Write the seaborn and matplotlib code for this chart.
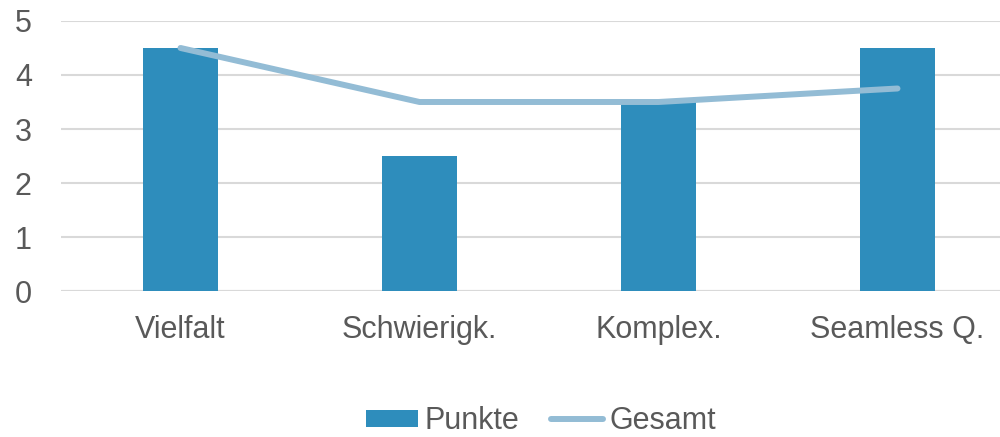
import matplotlib
matplotlib.use("Agg")
import matplotlib.pyplot as plt
import seaborn as sns
import pandas as pd
from matplotlib.patches import Patch
from matplotlib.lines import Line2D

categories = ["Vielfalt", "Schwierigk.", "Komplex.", "Seamless Q."]
punkte = [4.5, 2.5, 3.5, 4.5]
gesamt = [4.5, 3.5, 3.5, 3.75]

bar_color = "#2E8DBC"
line_color = "#93BCD5"
text_color = "#595959"
grid_color = "#D9D9D9"

sns.set_theme(style="white")
plt.rcParams['font.family'] = ['Liberation Sans', 'DejaVu Sans']

df = pd.DataFrame({"Kategorie": categories, "Punkte": punkte, "Gesamt": gesamt})

fig = plt.figure(figsize=(10, 4.37), dpi=100)
ax = fig.add_axes([0.061, 0.334, 0.956, 0.618])

sns.barplot(data=df, x="Kategorie", y="Punkte", color=bar_color, width=0.314,
            saturation=1, ax=ax, zorder=2, edgecolor="none", linewidth=0)
sns.pointplot(data=df, x="Kategorie", y="Gesamt", color=line_color, markers="",
              linestyles="-", ax=ax)
for ln in ax.lines:
    ln.set_linewidth(4.3)
    ln.set_solid_capstyle("round")
    ln.set_solid_joinstyle("round")
    ln.set_zorder(3)

ax.set_ylim(0, 5)
ax.set_xlim(-0.5, 3.5)
ax.set_yticks([0, 1, 2, 3, 4, 5])
ax.yaxis.grid(True, color=grid_color, linewidth=1.5, zorder=0)
ax.set_axisbelow(True)
for s in ax.spines.values():
    s.set_visible(False)
ax.axhline(0, color=grid_color, linewidth=1.5, zorder=1)
ax.set_xlabel("")
ax.set_ylabel("")
ax.tick_params(axis="y", length=0, pad=21, labelsize=22, labelcolor=text_color)
ax.tick_params(axis="x", length=0, pad=17, labelsize=22, labelcolor=text_color)

handles = [Patch(facecolor=bar_color, edgecolor="none", label="Punkte"),
           Line2D([0], [0], color=line_color, linewidth=4.3, solid_capstyle="round", label="Gesamt")]
fig.legend(handles=handles, loc="center", bbox_to_anchor=(0.541, 0.036), ncol=2,
           frameon=False, fontsize=22, labelcolor=text_color, handlelength=1.7,
           handleheight=0.5, handletextpad=0.2, columnspacing=1.05,
           borderpad=0.2)

fig.savefig("out.png", dpi=100)
